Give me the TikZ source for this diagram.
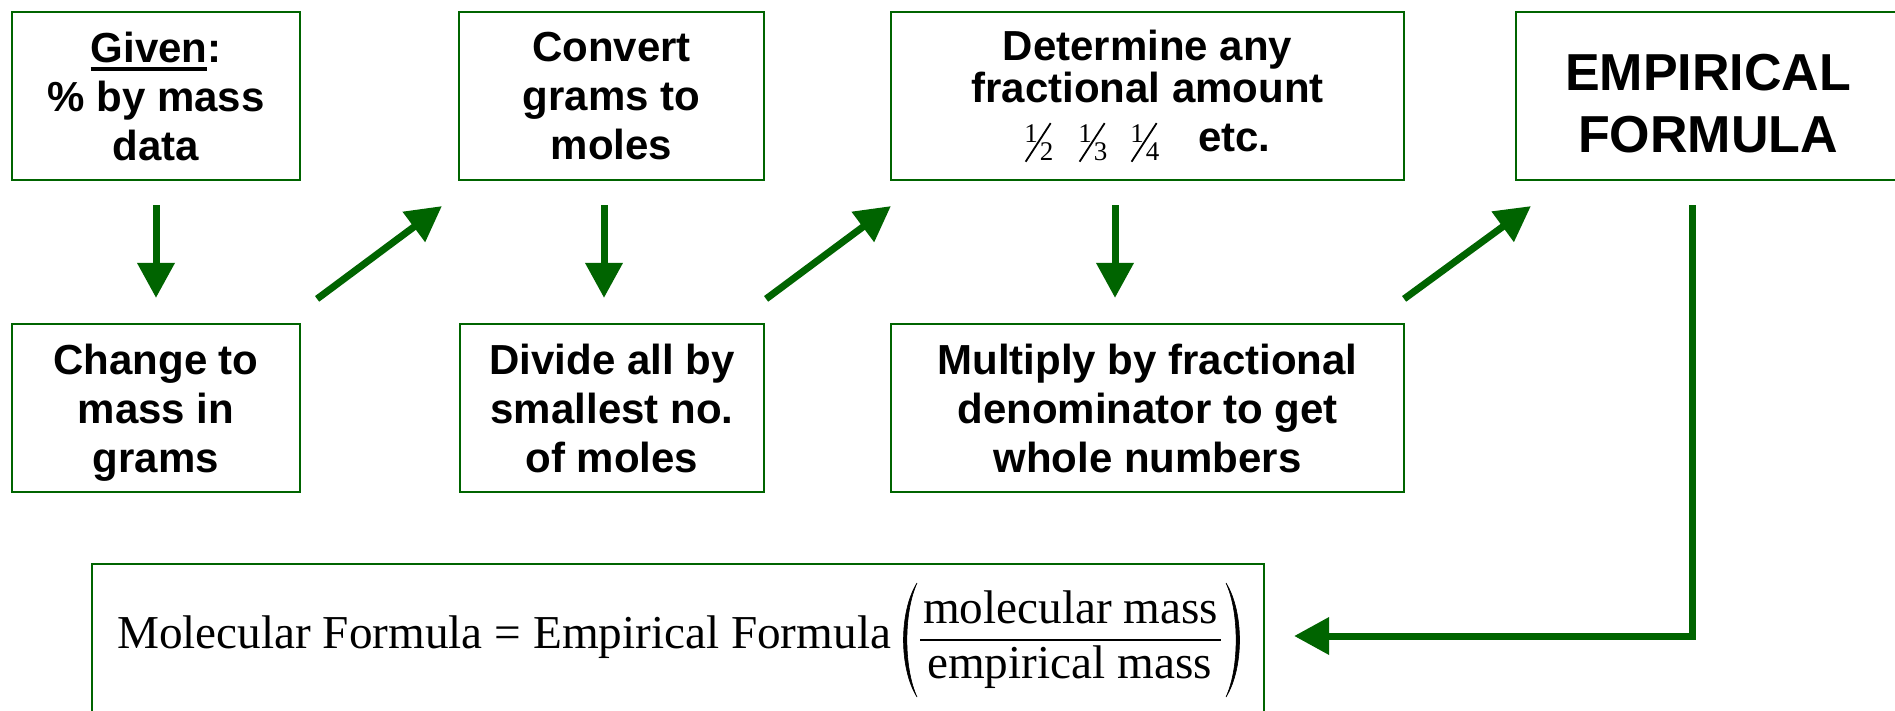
\documentclass[tikz,border=0pt]{standalone}
\usepackage{fontspec}
\usepackage{graphicx}
\setmainfont{Liberation Serif}
\newfontfamily\arialfont{Liberation Sans}
\usetikzlibrary{arrows.meta}
\definecolor{dkgreen}{RGB}{0,100,0}
\newcommand\sfr[2]{\mbox{\rmfamily\mdseries\fontsize{27}{27}\selectfont\raisebox{9pt}{#1}\kern-13pt\raisebox{-11pt}{\rotatebox{57}{\rule{46pt}{1.8pt}}}\kern-11.6pt\raisebox{-9pt}{#2}}}
\newcommand\ulword[1]{\setbox0=\hbox{#1}\rlap{\rule[-9pt]{\wd0}{4.5pt}}\box0}
\begin{document}
\begin{tikzpicture}[x=1pt,y=-1pt,
  box/.style={draw=dkgreen, line width=2.2pt, align=center, inner sep=0pt,
    minimum height=168pt, font={\arialfont\bfseries\fontsize{42}{49}\selectfont}},
  arr/.style={draw=dkgreen, line width=7pt, line join=miter,
    -{Triangle[width=36pt,length=35pt]}},
  serif/.style={inner sep=0pt, font={\rmfamily\fontsize{47.2}{47.2}\selectfont}}]
\useasboundingbox (0,0) rectangle (1895,711);
\clip (0,0) rectangle (1895,711);
\fill[white] (0,0) rectangle (1895,711);

% top row
\node[box, minimum width=288pt] (given) at (156,96) {\ulword{Given}:\\\% by mass\\data};
\node[box, minimum width=305pt] (conv) at (611.5,96) {Convert\\grams to\\moles};
\node[box, minimum width=513pt, font={\arialfont\bfseries\fontsize{42}{42}\selectfont}] (det) at (1147.5,96)
  {Determine any\\fractional amount\\[7pt]\sfr12\hspace{25pt}\sfr13\hspace{23pt}\sfr14\hspace{39pt}etc.};
\node[box, minimum width=384pt, font={\arialfont\bfseries\fontsize{52}{62}\selectfont}] (emp) at (1708,96)
  {\rule{0pt}{52pt}EMPIRICAL\\FORMULA};

% second row
\node[box, minimum width=288pt] (change) at (156,408) {Change to\\mass in\\\raisebox{0pt}[\height][0pt]{grams}};
\node[box, minimum width=304pt] (divide) at (612,408) {Divide all by\\smallest no.\\of moles};
\node[box, minimum width=513pt] (mult) at (1147.5,408) {Multiply by fractional\\denominator to get\\whole numbers};

% formula box
\node[draw=dkgreen, line width=2.2pt, minimum width=1172pt, minimum height=152pt, inner sep=0pt] (mol) at (678,640) {};
\node[serif, anchor=base west] (mf) at (117,648) {Molecular Formula = Empirical Formula};
\node[serif, anchor=base] (num) at (1070.5,623) {molecular mass};
\node[serif, anchor=base] (den) at (1069.5,678) {empirical mass};
\draw[line width=2pt] (920,640) -- (1221,640);
\fill[draw, line width=0.6pt] (917,583) .. controls (899,612) and (899,668) .. (917,697)
   .. controls (903.5,668) and (903.5,612) .. cycle;
\fill[draw, line width=0.6pt] (1226,583) .. controls (1244,612) and (1244,668) .. (1226,697)
   .. controls (1239.5,668) and (1239.5,612) .. cycle;

% arrows
\draw[arr] ([yshift=-24pt]given.south) -- ([yshift=25pt]change.north);
\draw[arr] ([xshift=-7.5pt,yshift=-24pt]conv.south) -- ([xshift=-8pt,yshift=25pt]divide.north);
\draw[arr] ([xshift=-32.5pt,yshift=-24pt]det.south) -- ([xshift=-32.5pt,yshift=25pt]mult.north);

\draw[arr] ([xshift=16pt,yshift=24pt]change.north east) -- ([xshift=-16pt,yshift=-25pt]conv.south west);
\draw[arr] ([xshift=1pt,yshift=24pt]divide.north east) -- ([xshift=1pt,yshift=-25pt]det.south west);
\draw[arr] ([xshift=-1pt,yshift=24pt]mult.north east) -- ([xshift=16pt,yshift=-25pt]emp.south west);

\coordinate (elbowend) at ([xshift=29pt,yshift=4pt]mol.east);
\draw[arr] ([xshift=-16pt,yshift=-24pt]emp.south) |- (elbowend);
\end{tikzpicture}
\end{document}
